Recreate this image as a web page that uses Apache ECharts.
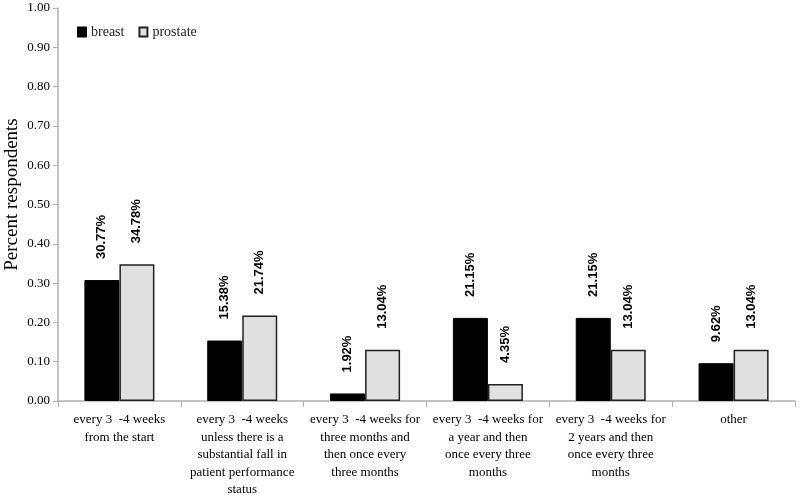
<!DOCTYPE html>
<html><head><meta charset="utf-8">
<script src="https://cdn.jsdelivr.net/npm/echarts@6/dist/echarts.min.js"></script>
<style>html,body{margin:0;padding:0;background:#fff}#c{width:800px;height:495px}</style>
</head><body><div id="c"></div>
<script>
const categories = [
  "every 3  -4 weeks\nfrom the start",
  "every 3  -4 weeks\nunless there is a\nsubstantial fall in\npatient performance\nstatus",
  "every 3  -4 weeks for\nthree months and\nthen once every\nthree months",
  "every 3  -4 weeks for\na year and then\nonce every three\nmonths",
  "every 3  -4 weeks for\n2 years and then\nonce every three\nmonths",
  "other"
];
const breast = [0.3077, 0.1538, 0.0192, 0.2115, 0.2115, 0.0962];
const prostate = [0.3478, 0.2174, 0.1304, 0.0435, 0.1304, 0.1304];
const yTicks = { min: 0, max: 1, interval: 0.1 };

const serif = "Liberation Serif";
const lbl = {
  show: true, position: 'top', rotate: 90, align: 'left', verticalAlign: 'middle',
  distance: 21, fontFamily: 'Liberation Sans', fontWeight: 'bold', fontSize: 13, color: '#000',
  formatter: p => (p.value * 100).toFixed(2) + '%'
};
const chart = echarts.init(document.getElementById('c'));
chart.setOption({
  animation: false,
  grid: { left: 58, right: 5, top: 8, bottom: 94, outerBoundsMode: 'none', containLabel: false },
  legend: {
    left: 72, top: 20, itemWidth: 8, itemHeight: 9, itemGap: 14,
    textStyle: { fontFamily: serif, fontSize: 14, color: '#222' },
    data: [{ name: 'breast', icon: 'rect' }, { name: 'prostate', icon: 'rect' }]
  },
  xAxis: {
    type: 'category', data: categories,
    axisLine: { lineStyle: { color: '#b0b0b0', width: 1.5 } },
    axisTick: { show: true, alignWithLabel: false, length: 6, lineStyle: { color: '#b0b0b0' } },
    axisLabel: { interval: 0, fontFamily: serif, fontSize: 13, color: '#000', lineHeight: 17.5, margin: 10 }
  },
  yAxis: {
    type: 'value', min: yTicks.min, max: yTicks.max, interval: yTicks.interval,
    name: 'Percent respondents', nameLocation: 'middle', nameGap: 36, nameRotate: 90,
    nameMoveOverlap: false,
    nameTextStyle: { fontFamily: serif, fontSize: 19, color: '#000', padding: [0, 0, 0, 20] },
    splitLine: { show: false },
    axisLine: { show: true, lineStyle: { color: '#b0b0b0', width: 1.5 } },
    axisTick: { show: true, length: 5, lineStyle: { color: '#b0b0b0' } },
    axisLabel: { fontFamily: serif, fontSize: 13, color: '#000', margin: 8, formatter: v => v.toFixed(2) }
  },
  series: [
    { name: 'breast', type: 'bar', data: breast, barGap: '0%', barCategoryGap: '43%',
      itemStyle: { color: '#000', borderColor: '#000', borderWidth: 1 }, label: lbl },
    { name: 'prostate', type: 'bar', data: prostate, barGap: '0%', barCategoryGap: '43%',
      itemStyle: { color: '#e0e0e0', borderColor: '#222', borderWidth: 1.5 }, label: lbl }
  ]
});
</script></body></html>
